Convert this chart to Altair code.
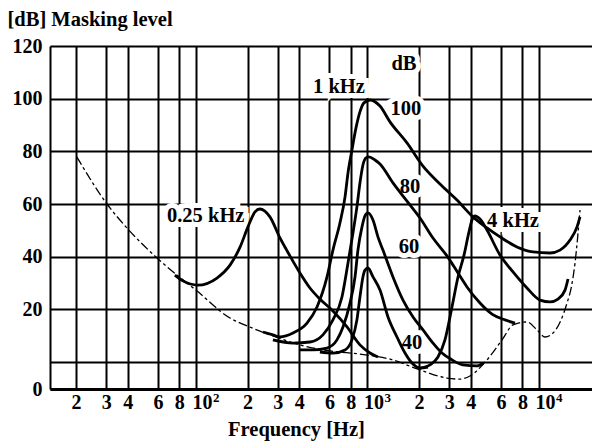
import altair as alt
import pandas as pd

# ---- data (frequency in Hz, level in dB) ----
thr_f = [20.2, 30.3, 39.6, 59.3, 82.9, 100, 158, 206, 263, 404, 605, 904, 1353, 2024,
         2907, 3464, 3960, 4976, 6086, 7055, 8511, 9734, 10839, 12068, 14566, 15500, 16218, 17343]
thr_db = [77.9, 60.0, 50.9, 39.5, 31.5, 27.3, 16.7, 13.3, 10.6, 6.5, 4.2, 3.0, 1.1, -3.0,
          -6.1, -6.5, -5.3, 0.8, 8.4, 14.1, 15.2, 12.2, 9.5, 11.0, 22.4, 29.0, 37.6, 57.7]

k025_f = [75.4, 84, 102.7, 132.6, 158, 181, 201, 221, 236, 270, 309, 353, 404, 462, 528, 629, 760, 904, 1034, 1151]
k025_db = [33.0, 30.8, 29.2, 31.9, 36.8, 43.7, 51.3, 57.0, 58.1, 55.1, 47.1, 40.3, 33.8, 28.1, 23.9, 19.4, 13.3, 6.5, 3.4, 1.9]

k1_100_f = [246, 281, 309, 368, 444, 508, 581, 629, 691, 740, 770, 812, 857, 904, 954, 1034,
            1183, 1353, 1700, 2107, 2647, 3326, 4122, 4976, 5925, 7440, 9226, 11592, 13259, 15164, 16660, 17343]
k1_100_db = [11.4, 10.3, 9.5, 11.0, 14.8, 20.9, 32.3, 42.5, 52.8, 62.7, 71.8, 80.5, 88.9, 95.0, 98.4, 99.5,
             97.2, 91.2, 83.2, 74.4, 67.6, 61.5, 55.1, 50.9, 47.5, 43.7, 41.8, 41.4, 42.5, 46.3, 51.3, 55.1]

k1_80_f = [281, 368, 462, 550, 629, 710, 770, 823, 868, 904, 941, 980, 1020, 1106, 1183, 1408, 1700,
           2024, 2409, 2907, 3372, 3804, 4529, 5321, 6337, 7248]
k1_80_db = [8.4, 7.2, 7.6, 10.3, 16.0, 24.7, 37.6, 49.0, 58.9, 68.0, 74.8, 77.5, 77.9, 76.7, 75.2, 68.0, 61.1,
            54.7, 47.1, 40.3, 33.8, 28.5, 22.4, 18.2, 16.0, 14.8]

k1_60_f = [404, 481, 581, 664, 720, 791, 846, 880, 929, 967, 1007, 1077, 1151, 1231, 1408, 1611, 1843,
           2107, 2409, 2719, 3110, 3606, 4351, 4716]
k1_60_db = [4.6, 4.6, 5.3, 8.4, 13.3, 22.4, 32.3, 42.5, 51.3, 55.5, 56.6, 53.9, 47.5, 42.5, 32.3, 23.5, 17.1,
            12.2, 7.2, 3.4, 0.8, -1.1, -1.5, -0.4]

k1_40_f = [528, 629, 740, 812, 868, 904, 941, 967, 1007, 1077, 1183, 1317, 1486, 1655, 1818, 2024, 2253]
k1_40_db = [3.8, 3.4, 4.6, 8.4, 16.0, 24.7, 32.3, 34.9, 35.7, 32.3, 27.3, 17.1, 9.5, 3.4, -0.4, -2.3, -1.9]

k4_f = [2024, 2314, 2577, 2830, 3110, 3372, 3654, 3907, 4067, 4235, 4529, 4976, 5925, 7055, 8511,
        10137, 11592, 12903, 14182, 14762]
k4_db = [-2.3, -1.1, 1.9, 8.4, 20.9, 32.3, 40.6, 49.4, 53.9, 55.5, 54.3, 50.1, 40.6, 34.2, 28.1,
         23.5, 22.8, 23.9, 27.3, 31.5]

ann_text = ["0.25 kHz", "1 kHz", "dB", "100", "80", "60", "40", "4 kHz"]
ann_f = [114, 682, 1633, 1677, 1769, 1746, 1818, 7055]
ann_db = [55.5, 104.4, 113.2, 96.1, 66.5, 43.7, 7.2, 53.6]

x_ticks = [20, 30, 40, 60, 80, 100, 200, 300, 400, 600, 800, 1000, 2000, 3000, 4000, 6000, 8000, 10000]
x_labels = ["2", "3", "4", "6", "8", "10", "2", "3", "4", "6", "8", "10", "2", "3", "4", "6", "8", "10"]
pow_ticks = [100, 1000, 10000]
pow_exps = ["2", "3", "4"]
y_bottom = -10.25
y_ticks = [y_bottom, 0, 20, 40, 60, 80, 100, 120]

# ---- tables ----
def frame(name, fs, ds):
    return pd.DataFrame({"curve": name, "f": fs, "db": ds, "order": range(len(fs))})

maskers = pd.concat([
    frame("0.25 kHz", k025_f, k025_db),
    frame("1 kHz 100", k1_100_f, k1_100_db),
    frame("1 kHz 80", k1_80_f, k1_80_db),
    frame("1 kHz 60", k1_60_f, k1_60_db),
    frame("1 kHz 40", k1_40_f, k1_40_db),
    frame("4 kHz", k4_f, k4_db),
])
threshold = frame("threshold", thr_f, thr_db)
ann = pd.DataFrame({"t": ann_text, "f": ann_f, "db": ann_db})
sup = pd.DataFrame({"f": pow_ticks, "e": pow_exps})

FONT = "Liberation Serif"
FS = 20
tick_js = "[" + ",".join(str(v) for v in x_ticks) + "]"
lab_js = "[" + ",".join("'" + s + "'" for s in x_labels) + "]"
pow_test = "datum.value == 100 || datum.value == 1000 || datum.value == 10000"

xscale = alt.Scale(type="log", domain=[14.1, 20370], nice=False)
yscale = alt.Scale(domain=[y_bottom, 120], nice=False, zero=False)

xaxis = alt.Axis(
    values=x_ticks, grid=True, gridColor="black", gridWidth=2, gridOpacity=1,
    domainColor="black", domainWidth=3, ticks=False,
    labelExpr=f"{lab_js}[indexof({tick_js}, datum.value)]",
    labelAlign={"condition": {"test": pow_test, "value": "left"}, "value": "center"},
    labelOffset={"condition": {"test": pow_test, "value": -4}, "value": 0},
    labelFont=FONT, labelFontWeight="bold", labelFontSize=FS, labelColor="black",
    labelPadding=3, labelOverlap=False, labelFlush=False, labelBound=False,
    title="Frequency [Hz]", titleFont=FONT, titleFontWeight="bold", titleFontSize=20.5,
    titleColor="black", titleX=246, titleY=46, titleAlign="center", titleBaseline="alphabetic",
)
yaxis = alt.Axis(
    values=y_ticks, grid=True, gridColor="black", gridWidth=2, gridOpacity=1,
    domainColor="black", domainWidth=2, ticks=False,
    labelExpr="datum.value < -5 ? '0' : (datum.value == 0 ? '' : datum.label)",
    labelFont=FONT, labelFontWeight="bold", labelFontSize=FS, labelColor="black",
    labelPadding=8, labelOverlap=False, labelBaseline="middle",
    title="[dB] Masking level", titleFont=FONT, titleFontWeight="bold", titleFontSize=20.5,
    titleColor="black", titleAngle=0, titleAlign="left", titleBaseline="alphabetic",
    titleX=-43, titleY=-21,
)

halo = alt.Chart(ann).mark_text(
    font=FONT, fontWeight="bold", fontSize=20.5, color="white", stroke="white", strokeWidth=10,
    strokeJoin="miter", align="center", baseline="middle"
).encode(x=alt.X("f:Q", scale=xscale, axis=xaxis), y=alt.Y("db:Q", scale=yscale, axis=yaxis), text="t:N")

thr = alt.Chart(threshold).mark_line(
    color="black", strokeWidth=1.3, strokeDash=[9, 3, 3, 3], interpolate="monotone"
).encode(x="f:Q", y="db:Q", order="order:Q")

mask = alt.Chart(maskers).mark_line(
    color="black", strokeWidth=2.8, interpolate="monotone"
).encode(x="f:Q", y="db:Q", detail="curve:N", order="order:Q")

txt = alt.Chart(ann).mark_text(
    font=FONT, fontWeight="bold", fontSize=20.5, color="black", align="center", baseline="middle"
).encode(x="f:Q", y="db:Q", text="t:N")

# exponent of the 10^n tick labels
sups = alt.Chart(sup).mark_text(
    font=FONT, fontWeight="bold", fontSize=13, color="black", align="left", baseline="top", dx=17
).encode(x="f:Q", y=alt.value(346), text="e:N")

chart = alt.layer(halo, thr, mask, txt, sups).properties(
    width=542, height=343,
    autosize=alt.AutoSizeParams(type="none"),
    padding={"left": 50, "top": 46, "right": 0, "bottom": 54},
    background="white",
).configure_view(strokeWidth=0)

chart.save("out.html", embed_options={"renderer": "svg", "actions": False})
